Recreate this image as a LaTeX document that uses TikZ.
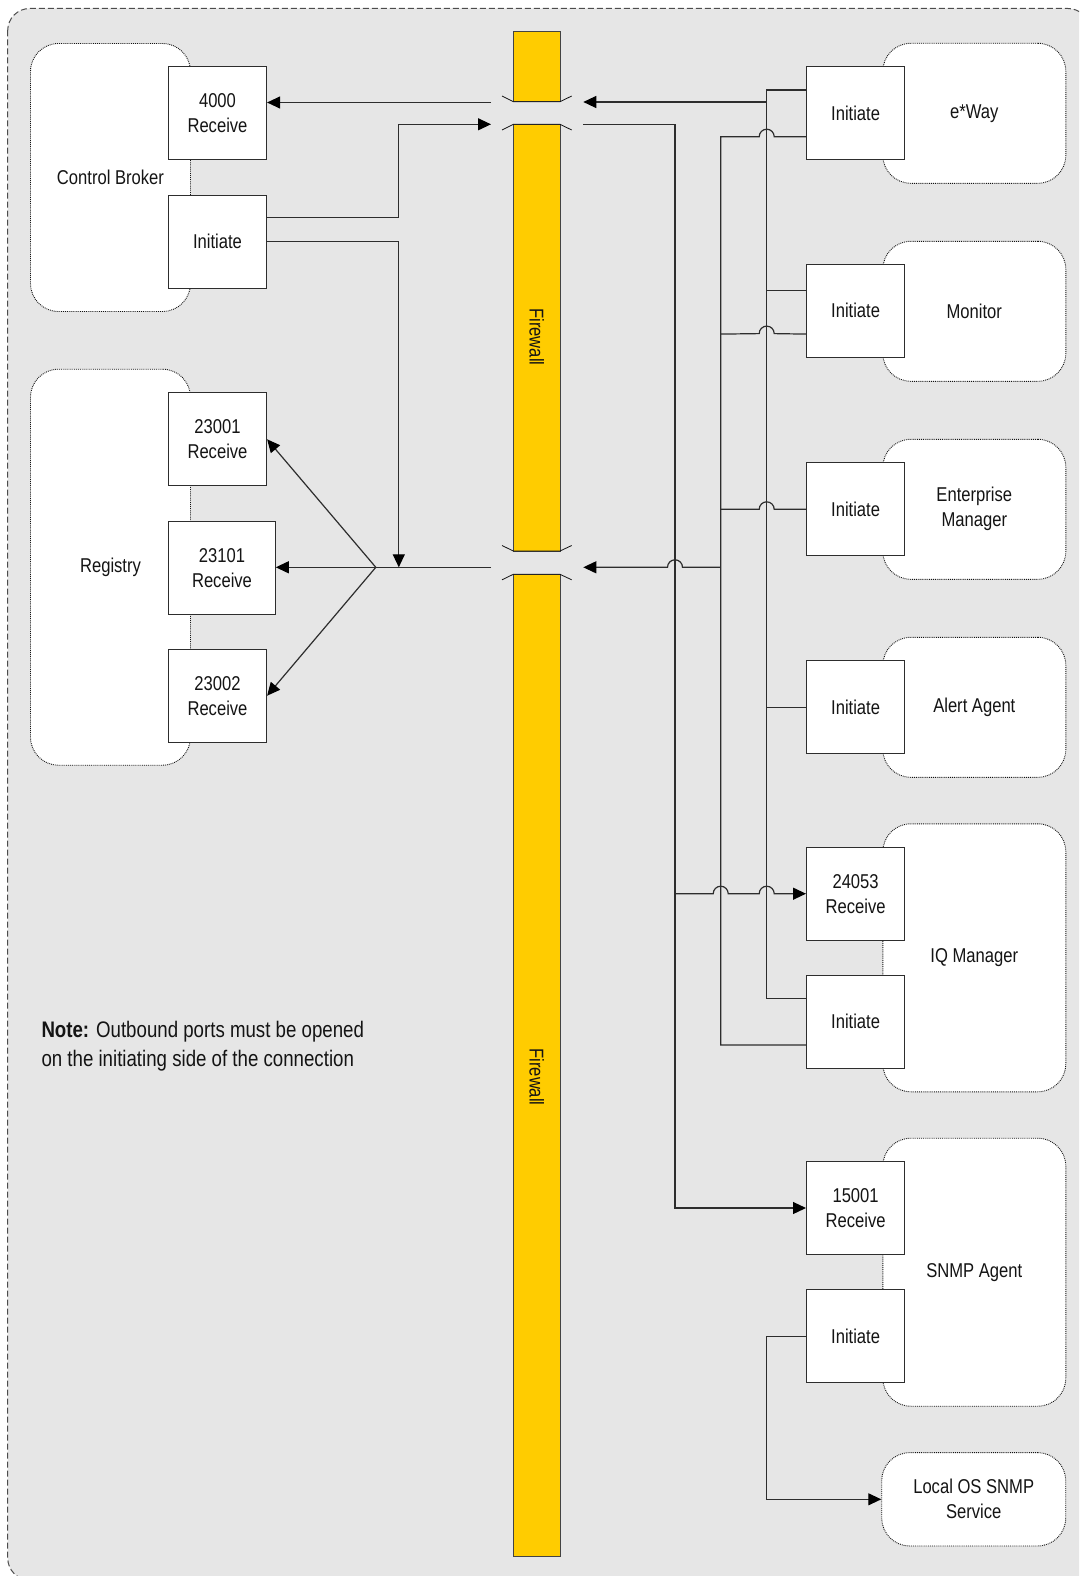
\documentclass[tikz,border=0pt]{standalone}
\usepackage{fontspec}
\setmainfont{Liberation Sans}[FakeStretch=0.83]
\usetikzlibrary{arrows.meta,calc}
\definecolor{bggray}{RGB}{230,230,230}
\definecolor{fwyellow}{RGB}{255,204,0}
\definecolor{ink}{RGB}{20,20,20}
\definecolor{wirec}{RGB}{45,45,45}
\begin{document}
\begin{tikzpicture}[x=1pt,y=-1pt,
  every node/.style={font=\fontsize{20}{25}\selectfont, text=ink},
  grp/.style={draw=ink, densely dotted, line width=0.9pt, fill=white, rounded corners=28pt, inner sep=0pt, align=center},
  port/.style={draw=wirec, line width=1.2pt, fill=white, inner sep=0pt, minimum width=98pt, minimum height=93pt, align=center},
  wire/.style={draw=wirec, line width=1.2pt},
  tipend/.style={-{Triangle[length=13pt,width=12pt,color=black]}},
  brk/.style={draw=ink, line width=0.8pt},
  fw/.style={draw=ink!80, line width=0.8pt, fill=fwyellow},
  notetext/.style={anchor=base west, inner sep=0pt, font=\fontsize{22.5}{28}\selectfont},
]
\useasboundingbox (0,0) rectangle (1079,1576);
\clip (0,0) rectangle (1079,1576);
% background
\draw[dash pattern=on 6pt off 3pt, draw=gray!60!black, line width=1pt, fill=bggray, rounded corners=22pt] (7.7,8.5) rectangle (1090,1580);

% firewall
\draw[fw] (513.3,31.5) rectangle (560,101.7);
\draw[fw] (513.3,124.3) rectangle (560,551);
\draw[fw] (513.3,574.3) rectangle (560,1556);
\draw[brk] (502,96) -- (513.3,101.7) -- (560,101.7) -- (571.7,96);
\draw[brk] (502,130) -- (513.3,124.3) -- (560,124.3) -- (571.7,130);
\draw[brk] (502,545.5) -- (513.3,551) -- (560,551) -- (571.7,545.5);
\draw[brk] (502,579.8) -- (513.3,574.3) -- (560,574.3) -- (571.7,579.8);
\node[rotate=-90] (fwA) at (536.7,337) {Firewall};
\node[rotate=-90] (fwB) at (536.7,1077) {Firewall};

% groups
\node[grp, minimum width=160pt, minimum height=268pt] (cb) at (110.5,177.5) {Control Broker};
\node[grp, minimum width=160pt, minimum height=396pt] (reg) at (110.5,567.2) {Registry};
\node[grp, minimum width=183pt, minimum height=140pt] (ew) at (974.3,113.3) {e*Way};
\node[grp, minimum width=183pt, minimum height=140pt] (mo) at (974.3,311.3) {Monitor};
\node[grp, minimum width=183pt, minimum height=140pt] (em) at (974.3,509.3) {Enterprise\\Manager};
\node[grp, minimum width=183pt, minimum height=140pt] (aa) at (974.3,707.3) {Alert Agent};
\node[grp, minimum width=183pt, minimum height=268pt] (iq) at (974.3,957.8) {IQ Manager};
\node[grp, minimum width=183pt, minimum height=268pt] (sn) at (974.3,1272.2) {SNMP Agent};
\node[grp, minimum width=184pt, minimum height=93.3pt] (los) at (973.7,1499.3) {Local OS SNMP\\Service};

% ports
\node[port] (cbR) at (217.5,113.3) {4000\\Receive};
\node[port] (cbI) at (217.5,241.7) {Initiate};
\node[port] (r1) at (217.5,439.3) {23001\\Receive};
\node[port, minimum width=106.4pt] (r2) at (222,567.7) {23101\\Receive};
\node[port] (r3) at (217.5,695.7) {23002\\Receive};
\node[port] (ewI) at (855.6,113) {Initiate};
\node[port] (moI) at (855.6,310.6) {Initiate};
\node[port] (emI) at (855.6,509.3) {Initiate};
\node[port] (aaI) at (855.6,707.3) {Initiate};
\node[port] (iqR) at (855.6,893.7) {24053\\Receive};
\node[port] (iqI) at (855.6,1021.8) {Initiate};
\node[port] (snR) at (855.6,1208) {15001\\Receive};
\node[port] (snI) at (855.6,1336.3) {Initiate};

% note
\node[notetext] (note1) at (41.3,1037.8) {\textbf{Note:} Outbound ports must be opened};
\node[notetext] (note2) at (41.3,1066) {on the initiating side of the connection};

% coordinates
\coordinate (g1Lt) at (491,102.5);
\coordinate (g1Lb) at (491,124.3);
\coordinate (g1Rt) at (583.3,102);
\coordinate (g1Rb) at (583.3,124.3);
\coordinate (g2L) at (491,567.3);
\coordinate (g2R) at (583.3,567.3);
\coordinate (jn) at (375.8,567.3);
\coordinate (busA) at (766.7,0);
\coordinate (busB) at (720.7,0);
\coordinate (busC) at (675,0);
\coordinate (busD) at (398.8,0);
\coordinate (cbIa) at ([yshift=24.4pt]cbI.east);
\coordinate (ewIA) at ([yshift=23pt]ewI.west);
\coordinate (ewIB) at ([yshift=-23.7pt]ewI.west);
\coordinate (moIA) at ([yshift=20.5pt]moI.west);
\coordinate (moIB) at ([yshift=-23.5pt]moI.west);
\coordinate (iqIA) at ([yshift=23.5pt]iqI.west);
\coordinate (iqIB) at ([yshift=-23.2pt]iqI.west);

% left connectors
\draw[wire,tipend] (g1Lt) -- (g1Lt -| cbR.east);
\draw[wire,tipend] (cbIa) -| (busD |- g1Lb) -- (g1Lb);
\draw[wire,tipend] (cbI.east) -- (cbI.east -| busD) -- (busD |- jn);
\draw[wire] (g2L) -- (jn);
\draw[wire,tipend] (jn) -- (r1.east);
\draw[wire,tipend] (jn) -- (jn -| r2.east);
\draw[wire,tipend] (jn) -- (r3.east);

% right connectors
\draw[wire] (ewIA) -| (busA |- iqIA) -- (iqIA);
\draw[wire,tipend] (busA |- g1Rt) -- (g1Rt);
\draw[wire] (ewIB) -- (774.2,136.7) arc[start angle=0,end angle=-180,radius=7.5] -- (busB |- ewIB) -- (busB |- iqIB) -- (iqIB);
\draw[wire] (moIA) -- (busA |- moIA);
\draw[wire] (moIB) -- (774.2,333.6) arc[start angle=0,end angle=-180,radius=7.5] -- (busB |- moIB);
\draw[wire] (emI.west) -- (774.2,509.3) arc[start angle=0,end angle=-180,radius=7.5] -- (busB |- emI.west);
\draw[wire] (aaI.west) -- (busA |- aaI.west);
\draw[wire,tipend] (busB |- g2R) -- (682.5,567.3) arc[start angle=0,end angle=-180,radius=7.5] -- (g2R);
\draw[wire,tipend] (g1Rb) -- (busC |- g1Rb) -- (busC |- snR.west) -- (snR.west);
\draw[wire,tipend] (busC |- iqR.west) -- (713.2,893.7) arc[start angle=180,end angle=360,radius=7.5] -- (759.2,893.7) arc[start angle=180,end angle=360,radius=7.5] -- (iqR.west);
\draw[wire,tipend] (snI.west) -- (snI.west -| busA) -- (busA |- los.west) -- (los.west);
\end{tikzpicture}
\end{document}
